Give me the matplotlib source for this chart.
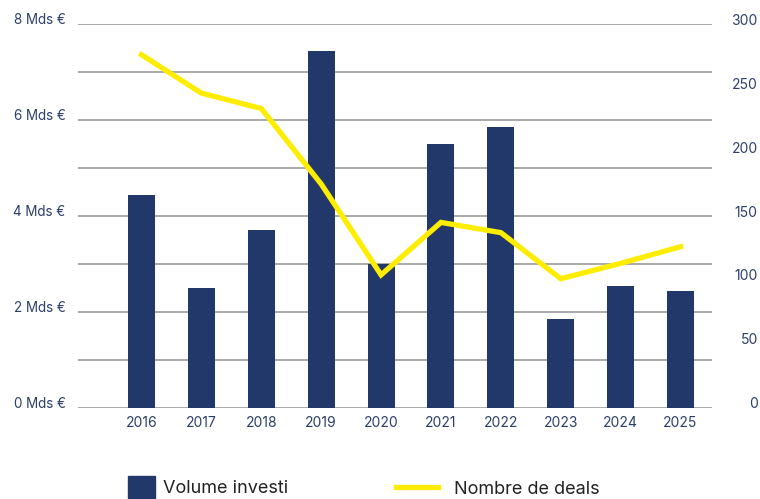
import numpy as np
import matplotlib
matplotlib.use("Agg")
import matplotlib.pyplot as plt
import matplotlib.transforms as mtransforms
from matplotlib.patches import Patch
from matplotlib.lines import Line2D

plt.rcParams['font.family'] = ['Inter', 'DejaVu Sans']

years = ['2016', '2017', '2018', '2019', '2020', '2021', '2022', '2023', '2024', '2025']
volume = [4.44, 2.50, 3.71, 7.44, 2.99, 5.50, 5.85, 1.85, 2.54, 2.44]   # Mds €
deals = [276, 246, 234, 175, 104, 145, 137, 101, 113, 126]

navy = '#22386a'
yellow = '#ffed00'
label_col = '#2b3f6b'
grid_col = '#a3a3a3'

fig = plt.figure(figsize=(7.6, 4.99), dpi=100)
ax = fig.add_axes([78/760, 1-408/499, (712-78)/760, (408-24)/499])
x = np.arange(len(years))

ax.bar(x, volume, width=0.45, color=navy, zorder=2)
ax.set_ylim(0, 8)
ax.set_xlim(-1.06, 9.525)
ax.set_yticks(np.arange(0, 9, 1))
ax.set_yticklabels([f'{v} Mds €' if v % 2 == 0 else '' for v in range(9)])
ax.set_xticks(x)
ax.set_xticklabels(years)
ax.grid(axis='y', color=grid_col, linewidth=1.3, zorder=0)
ax.tick_params(axis='y', length=0, pad=9, labelsize=9.7, labelcolor=label_col)
ax.tick_params(axis='x', length=0, pad=6, labelsize=10, labelcolor=label_col)
for s in ax.spines.values():
    s.set_visible(False)

ax2 = ax.twinx()
ax2.plot(x, deals, color=yellow, linewidth=3.8, solid_joinstyle='miter', zorder=3)
ax2.set_ylim(0, 300)
ax2.set_yticks(np.arange(0, 301, 50))
ax2.tick_params(axis='y', length=0, pad=33, labelsize=10, labelcolor=label_col)
for lab in ax2.get_yticklabels():
    lab.set_horizontalalignment('right')
for s in ax2.spines.values():
    s.set_visible(False)

# labels sit a bit above their gridline
off = mtransforms.ScaledTranslation(0, 5/100, fig.dpi_scale_trans)
for lab in ax.get_yticklabels() + ax2.get_yticklabels():
    lab.set_transform(lab.get_transform() + off)

leg1 = fig.legend([Patch(color=navy)], ['Volume investi'], loc='center left',
                  bbox_to_anchor=(128/760, 1-487/499), frameon=False, fontsize=13,
                  handlelength=1.5, handleheight=1.5, handletextpad=0.45,
                  borderpad=0, borderaxespad=0, labelcolor='#222222')
leg2 = fig.legend([Line2D([], [], color=yellow, linewidth=3.8)], ['Nombre de deals'],
                  loc='center left', bbox_to_anchor=(396/760, 1-489/499), frameon=False,
                  fontsize=13, handlelength=2.3, handletextpad=0.9,
                  borderpad=0, borderaxespad=0, labelcolor='#222222')

fig.savefig('out.png', dpi=100)
